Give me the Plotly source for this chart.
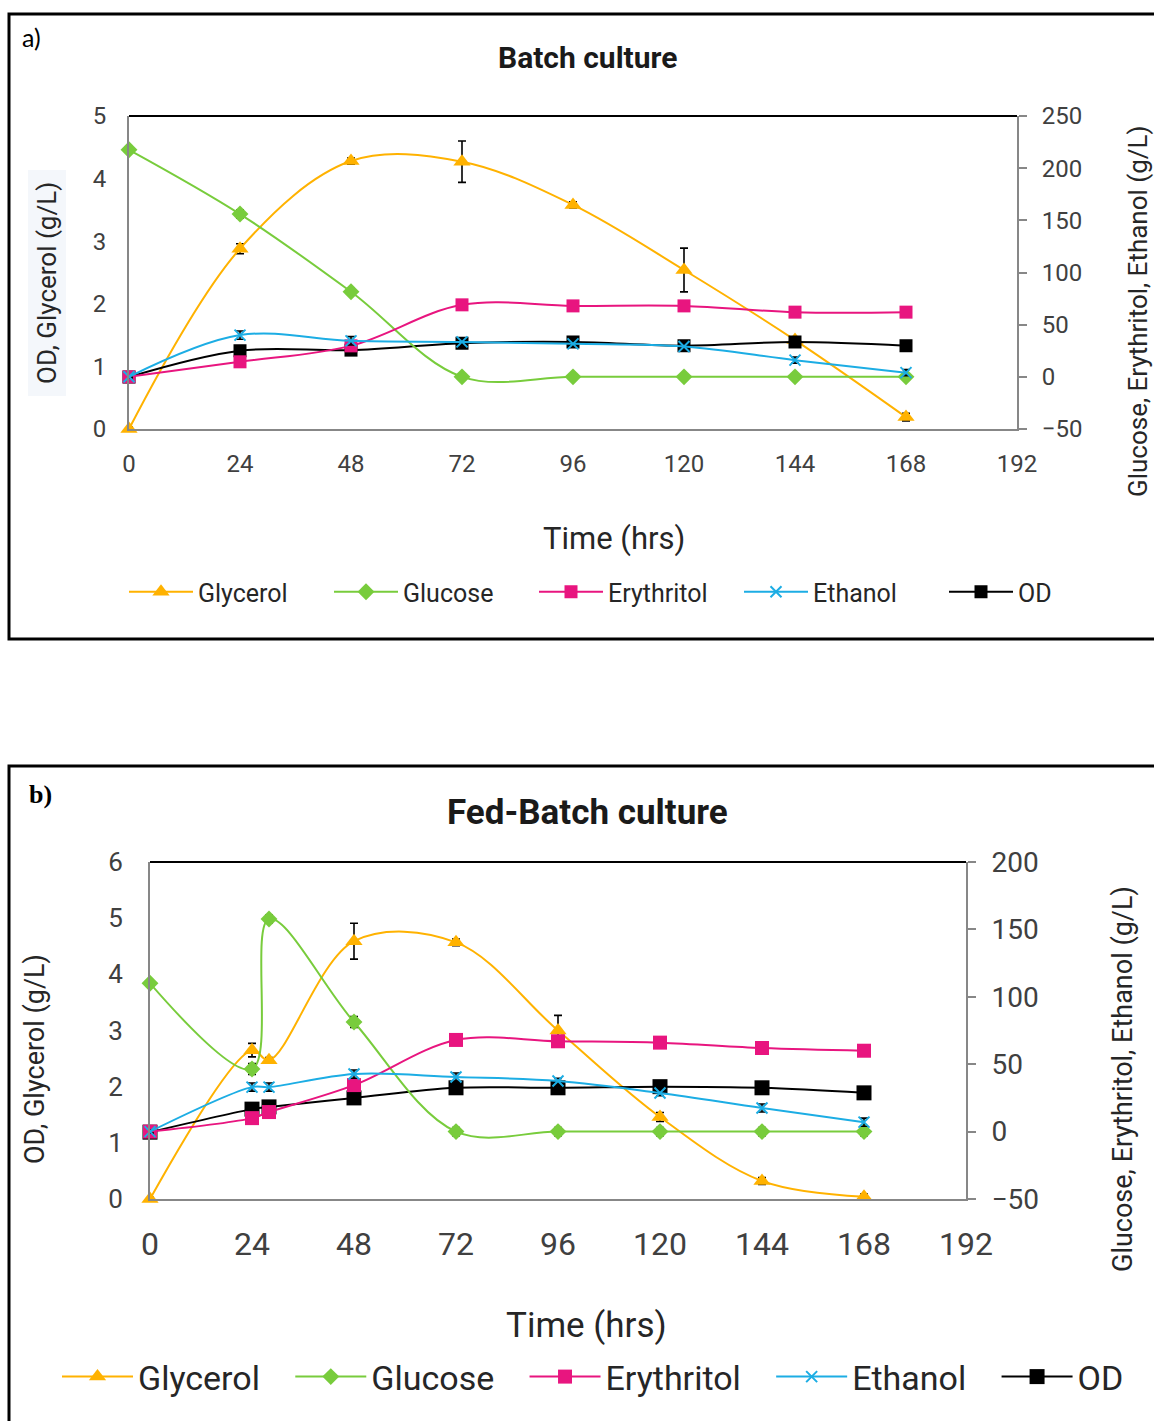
import plotly.graph_objects as go

W, H = 1154, 1421

# ---------------- Data: panel a (Batch culture) ----------------
time_a = [0, 24, 48, 72, 96, 120, 144, 168]
glycerol_a = [0.0, 2.88, 4.28, 4.27, 3.58, 2.54, 1.42, 0.19]
glycerol_a_err = [0.03, 0.08, 0.05, 0.33, 0.05, 0.35, 0.04, 0.06]
glucose_a = [217.6, 156.0, 81.5, 0.0, 0.0, 0.0, 0.0, 0.0]
glucose_a_err = [2, 4, 3, 2, 2, 2, 2, 2]
erythritol_a = [0.0, 14.4, 29.7, 69.0, 68.0, 68.0, 62.0, 62.0]
erythritol_a_err = [1, 1, 1, 1, 1, 1, 1, 1]
ethanol_a = [0.0, 40.0, 34.5, 33.5, 31.6, 29.0, 16.0, 4.0]
ethanol_a_err = [1, 4, 4, 2, 2, 2, 3, 3]
od_a = [0.83, 1.25, 1.26, 1.37, 1.39, 1.33, 1.39, 1.33]
od_a_err = [0.04, 0.05, 0.05, 0.06, 0.04, 0.04, 0.04, 0.04]

# ---------------- Data: panel b (Fed-Batch culture) ----------------
time_b = [0, 24, 28, 48, 72, 96, 120, 144, 168]
glycerol_b = [0.0, 2.65, 2.47, 4.59, 4.57, 3.0, 1.46, 0.32, 0.04]
glycerol_b_err = [0.03, 0.12, 0.05, 0.32, 0.06, 0.27, 0.08, 0.06, 0.05]
glucose_b = [110.0, 46.4, 157.7, 81.3, 0.0, 0.0, 0.0, 0.0, 0.0]
glucose_b_err = [2, 4, 3, 4, 3, 3, 3, 3, 3]
erythritol_b = [0.0, 10.0, 14.5, 34.5, 68.0, 67.0, 66.0, 62.0, 60.0]
erythritol_b_err = [1, 1, 1, 1, 1, 1, 1, 1, 1]
ethanol_b = [0.0, 33.0, 33.0, 42.7, 40.5, 37.5, 28.6, 17.5, 7.0]
ethanol_b_err = [1, 3, 3, 3, 3, 2, 2, 3, 3]
od_b = [1.19, 1.60, 1.64, 1.80, 1.98, 1.98, 2.00, 1.98, 1.89]
od_b_err = [0.04, 0.05, 0.05, 0.04, 0.04, 0.05, 0.04, 0.04, 0.04]

x_ticks = [0, 24, 48, 72, 96, 120, 144, 168, 192]
series_names = ["Glycerol", "Glucose", "Erythritol", "Ethanol", "OD"]

# ---------------- Styles ----------------
C_GLY = "#FFB200"
C_GLU = "#78CC3C"
C_ERY = "#E8157F"
C_ETH = "#1CADE4"
C_OD = "#000000"
AX = "#878787"
TXT = "#404040"
LEG = "#262626"
FONT = "Roboto"
NB = "\u00a0"


def px(x):
    return x / W


def py(y):
    return 1 - y / H


fig = go.Figure()


def add_series(x, y, err, name, color, symbol, size, xa, ya, legend, lw=2):
    marker = dict(symbol=symbol, size=size, color=color)
    if symbol.startswith("x-thin"):
        marker = dict(symbol=symbol, size=size, color=color,
                      line=dict(color=color, width=2))
    fig.add_trace(go.Scatter(
        x=x, y=y, name=name, mode="lines+markers", cliponaxis=False,
        line=dict(color=color, width=lw, shape="spline", smoothing=1.0),
        marker=marker,
        error_y=dict(type="data", array=err, visible=True, color="black",
                     thickness=1.6, width=4),
        xaxis=xa, yaxis=ya, legend=legend,
    ))


# panel a
add_series(time_a, glycerol_a, glycerol_a_err, series_names[0], C_GLY, "triangle-up", 15, "x", "y", "legend")
add_series(time_a, glucose_a, glucose_a_err, series_names[1], C_GLU, "diamond", 13, "x", "y2", "legend")
add_series(time_a, erythritol_a, erythritol_a_err, series_names[2], C_ERY, "square", 13, "x", "y2", "legend")
add_series(time_a, ethanol_a, ethanol_a_err, series_names[3], C_ETH, "x-thin", 11, "x", "y2", "legend")
add_series(time_a, od_a, od_a_err, series_names[4], C_OD, "square", 13, "x", "y", "legend")

# panel b (legend names padded with no-break spaces for the wider item spacing)
pad_b = NB * 3
add_series(time_b, glycerol_b, glycerol_b_err, series_names[0] + pad_b, C_GLY, "triangle-up", 15, "x2", "y3", "legend2")
add_series(time_b, glucose_b, glucose_b_err, series_names[1] + pad_b, C_GLU, "diamond", 13, "x2", "y4", "legend2")
add_series(time_b, erythritol_b, erythritol_b_err, series_names[2] + pad_b, C_ERY, "square", 14, "x2", "y4", "legend2")
add_series(time_b, ethanol_b, ethanol_b_err, series_names[3] + pad_b, C_ETH, "x-thin", 11, "x2", "y4", "legend2")
add_series(time_b, od_b, od_b_err, series_names[4], C_OD, "square", 15, "x2", "y3", "legend2")

# domains (pixel-based)
ax_a = (129, 1017)
ay_a = (116, 429)
ax_b = (150, 966)
ay_b = (862, 1199)

common_x = dict(range=[0, 192], tickvals=x_ticks, showline=True, linecolor=AX,
                linewidth=2, ticks="", showgrid=False, zeroline=False, automargin=False)
common_y = dict(showline=True, linecolor=AX, linewidth=2, showgrid=False,
                zeroline=False, automargin=False)

fig.update_layout(
    template="none",
    width=W, height=H, margin=dict(l=0, r=0, t=0, b=0, pad=0),
    paper_bgcolor="white", plot_bgcolor="white",
    font=dict(family=FONT, color=TXT),
    showlegend=True,
    xaxis=dict(common_x, domain=[px(ax_a[0]), px(ax_a[1])], anchor="y",
               tickfont=dict(size=24, color=TXT), ticklabelstandoff=12),
    yaxis=dict(common_y, domain=[py(ay_a[1]), py(ay_a[0])], range=[0, 5], dtick=1, anchor="x",
               ticks="", tickfont=dict(size=24, color=TXT), ticklabelstandoff=16),
    yaxis2=dict(common_y, range=[-50, 250], dtick=50, overlaying="y", side="right", anchor="x",
                ticks="outside", ticklen=8, tickcolor=AX, tickwidth=2,
                tickfont=dict(size=24, color=TXT), ticklabelstandoff=10),
    xaxis2=dict(common_x, domain=[px(ax_b[0]), px(ax_b[1])], anchor="y3",
                tickfont=dict(size=32, color=TXT), ticklabelstandoff=16),
    yaxis3=dict(common_y, domain=[py(ay_b[1]), py(ay_b[0])], range=[0, 6], dtick=1, anchor="x2",
                ticks="", tickfont=dict(size=26, color=TXT), ticklabelstandoff=20),
    yaxis4=dict(common_y, range=[-50, 200], dtick=50, overlaying="y3", side="right", anchor="x2",
                ticks="outside", ticklen=8, tickcolor=AX, tickwidth=2,
                tickfont=dict(size=28, color=TXT), ticklabelstandoff=10),
    legend=dict(orientation="h", x=px(124), xanchor="left", y=py(592), yanchor="middle",
                font=dict(size=25, color=LEG), entrywidth=126, entrywidthmode="pixels",
                bgcolor="rgba(0,0,0,0)", borderwidth=0, itemwidth=64),
    legend2=dict(orientation="h", x=px(57), xanchor="left", y=py(1377), yanchor="middle",
                 font=dict(size=34, color=LEG), entrywidth=0,
                 bgcolor="rgba(0,0,0,0)", borderwidth=0, itemwidth=71),
)

shapes = [
    # panel borders
    dict(type="rect", xref="paper", yref="paper", x0=px(9), x1=px(1170), y0=py(639), y1=py(14),
         line=dict(color="black", width=3), layer="below"),
    dict(type="rect", xref="paper", yref="paper", x0=px(9), x1=px(1170), y0=py(1440), y1=py(766),
         line=dict(color="black", width=3), layer="below"),
    # light background behind left axis title (panel a)
    dict(type="rect", xref="paper", yref="paper", x0=px(28), x1=px(66), y0=py(396), y1=py(170),
         line=dict(width=0), fillcolor="#F4F7FB", layer="below"),
    # black top lines of plot areas
    dict(type="line", xref="paper", yref="paper", x0=px(ax_a[0]), x1=px(ax_a[1]), y0=py(ay_a[0]), y1=py(ay_a[0]),
         line=dict(color="black", width=2)),
    dict(type="line", xref="paper", yref="paper", x0=px(ax_b[0]), x1=px(ax_b[1]), y0=py(ay_b[0]), y1=py(ay_b[0]),
         line=dict(color="black", width=2)),
]
fig.update_layout(shapes=shapes)

ann = [
    dict(text="a)", x=px(20), y=py(37), xanchor="left", yanchor="middle",
         font=dict(family="Lato", size=25, color="black")),
    dict(text="<b>b)</b>", x=px(27), y=py(795), xanchor="left", yanchor="middle",
         font=dict(family="Liberation Serif", size=26, color="black")),
    dict(text="<b>Batch culture</b>", x=px(587), y=py(57), xanchor="center", yanchor="middle",
         font=dict(size=30, color="#1a1a1a")),
    dict(text="<b>Fed-Batch culture</b>", x=px(587), y=py(812), xanchor="center", yanchor="middle",
         font=dict(size=35, color="#1a1a1a")),
    dict(text="Time (hrs)", x=px(614), y=py(538), xanchor="center", yanchor="middle",
         font=dict(size=31, color=LEG)),
    dict(text="Time (hrs)", x=px(586), y=py(1325), xanchor="center", yanchor="middle",
         font=dict(size=35, color=LEG)),
    dict(text="OD, Glycerol (g/L)", x=px(47), y=py(283), xanchor="center", yanchor="middle",
         textangle=-90, font=dict(size=26, color=LEG)),
    dict(text="Glucose, Erythritol, Ethanol (g/L)", x=px(1138), y=py(311), xanchor="center",
         yanchor="middle", textangle=-90, font=dict(size=26, color=LEG)),
    dict(text="OD, Glycerol (g/L)", x=px(35), y=py(1059), xanchor="center", yanchor="middle",
         textangle=-90, font=dict(size=27, color=LEG)),
    dict(text="Glucose, Erythritol, Ethanol (g/L)", x=px(1123), y=py(1079), xanchor="center",
         yanchor="middle", textangle=-90, font=dict(size=27, color=LEG)),
]
for a in ann:
    a.update(xref="paper", yref="paper", showarrow=False)
fig.update_layout(annotations=ann)

fig.write_html("out.html")
